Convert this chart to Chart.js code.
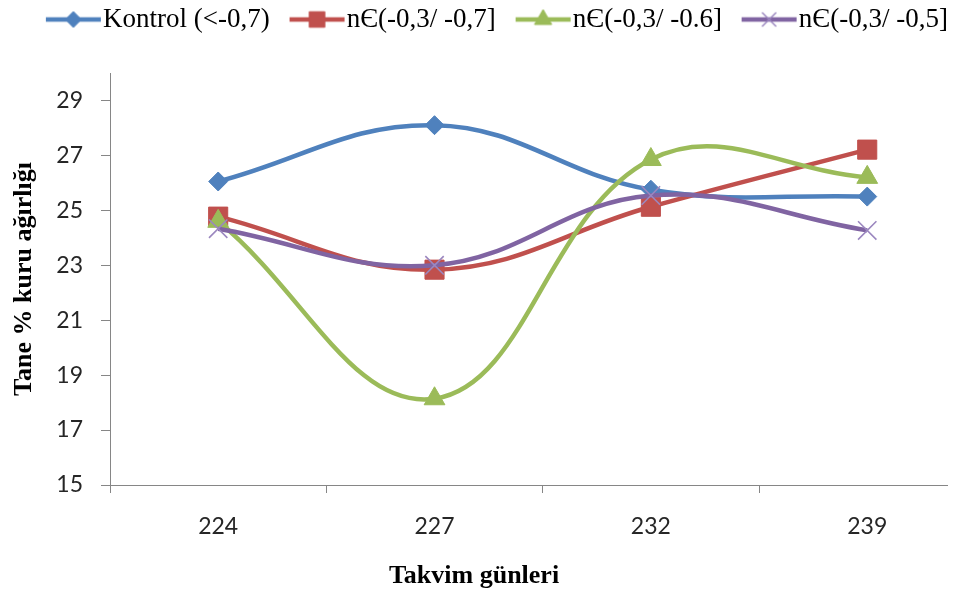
<!DOCTYPE html>
<html><head><meta charset="utf-8">
<script src="https://cdn.jsdelivr.net/npm/chart.js@4.4.1/dist/chart.umd.min.js"></script>
<style>
html,body{margin:0;padding:0;background:#fff;overflow:hidden}
#wrap{position:absolute;left:0;top:0;width:948px;height:592px;overflow:hidden;background:#fff}
canvas{display:block}
</style></head><body>
<div id="wrap"><canvas id="c" width="990" height="592" style="width:990px;height:592px"></canvas></div>
<script>
const days = ['224', '227', '232', '239'];
const seriesNames = ['Kontrol (<-0,7)', 'nЄ(-0,3/ -0,7]', 'nЄ(-0,3/ -0.6]', 'nЄ(-0,3/ -0,5]'];
const kontrol = [26.05, 28.1, 25.75, 25.5];
const n07 = [24.77, 22.84, 25.13, 27.21];
const n06 = [24.6, 18.14, 26.85, 26.2];
const n05 = [24.33, 23.0, 25.54, 24.27];
const yTicks = [15, 17, 19, 21, 23, 25, 27, 29];
const yTitle = 'Tane % kuru ağırlığı';
const xTitle = 'Takvim günleri';

const colors = ['#4F81BD', '#C0504D', '#9BBB59', '#8064A2'];
const markerBorder = ['#4F81BD', '#C0504D', '#9BBB59', '#9B87BF'];
const styles = ['rectRot', 'rect', 'triangle', 'crossRot'];
const radii = [9.5, 13.5, 12, 13];
const values = [kontrol, n07, n06, n05];

function drawMarker(g, style, x, y, r, fill, stroke, bw) {
  g.save();
  g.fillStyle = fill; g.strokeStyle = stroke; g.lineWidth = bw;
  g.beginPath();
  if (style === 'rectRot') {
    g.moveTo(x, y - r); g.lineTo(x + r, y); g.lineTo(x, y + r); g.lineTo(x - r, y); g.closePath(); g.fill(); g.stroke();
  } else if (style === 'rect') {
    const s = r * Math.SQRT1_2; g.rect(x - s, y - s, 2 * s, 2 * s); g.fill(); g.stroke();
  } else if (style === 'triangle') {
    for (let k = 0; k < 3; k++) {
      const a = k * 2 * Math.PI / 3;
      const px = x + Math.sin(a) * r, py = y - Math.cos(a) * r;
      if (k === 0) g.moveTo(px, py); else g.lineTo(px, py);
    }
    g.closePath(); g.fill(); g.stroke();
  } else {
    const s = r * Math.SQRT1_2;
    g.moveTo(x - s, y - s); g.lineTo(x + s, y + s); g.moveTo(x - s, y + s); g.lineTo(x + s, y - s); g.stroke();
  }
  g.restore();
}

function legendIcon(i) {
  const c = document.createElement('canvas');
  c.width = 160; c.height = 34;
  const g = c.getContext('2d');
  const cy = 17;
  g.strokeStyle = colors[i]; g.lineWidth = 4.5;
  g.beginPath(); g.moveTo(65, cy); g.lineTo(120, cy); g.stroke();
  const lr = [8, 11, 10, 10][i];
  drawMarker(g, styles[i], 92.5, cy, lr, colors[i], markerBorder[i], i === 3 ? 1.5 : 1);
  return c;
}
const icons = values.map((v, i) => legendIcon(i));

const tweak = {
  id: 'tweak',
  beforeLayout(chart) {
    const lg = chart.legend;
    if (lg && !lg._patched) {
      const f = lg.fit;
      lg.fit = function () { f.call(this); this.height = 73; };
      lg._patched = true;
    }
  },
  afterLayout(chart) {
    const t = chart.titleBlock;
    if (t) { t.left = 0; t.right = 948; t.width = 948; }
    const lg = chart.legend;
    if (lg) { lg.left = 0; lg.right = 980; }
  }
};

new Chart(document.getElementById('c'), {
  type: 'line',
  data: {
    labels: days,
    datasets: values.map((v, i) => ({
      label: seriesNames[i],
      data: v,
      borderColor: colors[i],
      backgroundColor: colors[i],
      borderWidth: 4.5,
      tension: 0.4,
      fill: false,
      pointStyle: styles[i],
      pointRadius: radii[i],
      pointHoverRadius: radii[i],
      pointBackgroundColor: colors[i],
      pointBorderColor: markerBorder[i],
      pointBorderWidth: i === 3 ? 1.6 : 1,
      order: 4 - i
    }))
  },
  options: {
    responsive: false,
    animation: false,
    events: [],
    layout: { padding: 0 },
    scales: {
      x: {
        type: 'category',
        offset: true,
        grid: { offset: true, drawOnChartArea: false, tickLength: 8, color: '#868686', tickColor: '#868686' },
        border: { color: '#868686', width: 1 },
        ticks: { font: { family: 'Lato', size: 23 }, color: '#262626', padding: 20, maxRotation: 0 },
        afterFit(s) { s.height = 592 - 31.2 - 485; }
      },
      y: {
        min: 15, max: 30,
        afterBuildTicks(s) { s.ticks = yTicks.map(v => ({ value: v })); },
        grid: { drawOnChartArea: false, tickLength: 9, color: '#868686', tickColor: '#868686' },
        border: { color: '#868686', width: 1 },
        ticks: { font: { family: 'Lato', size: 23 }, color: '#262626', padding: 18 },
        title: { display: true, text: yTitle, font: { family: 'Liberation Serif', size: 26, weight: 'bold' }, color: '#000', padding: { top: 9, bottom: 0 } },
        afterFit(s) { s.width = 110; }
      }
    },
    plugins: {
      tooltip: { enabled: false },
      title: {
        display: true, position: 'bottom', text: xTitle,
        font: { family: 'Liberation Serif', size: 26, weight: 'bold' }, color: '#000',
        padding: { top: 0, bottom: 0 }
      },
      legend: {
        display: true, position: 'top',
        labels: {
          usePointStyle: true,
          pointStyleWidth: 57.5,
          padding: 6,
          color: '#000',
          font: { family: 'Liberation Serif', size: 27 },
          sort: (a, b) => a.datasetIndex - b.datasetIndex,
          generateLabels(chart) {
            const items = Chart.defaults.plugins.legend.labels.generateLabels(chart);
            items.sort((a, b) => a.datasetIndex - b.datasetIndex);
            items.forEach((it) => { it.pointStyle = icons[it.datasetIndex]; it.fontColor = '#000'; });
            return items;
          }
        }
      }
    }
  },
  plugins: [tweak]
});
</script>
</body></html>
